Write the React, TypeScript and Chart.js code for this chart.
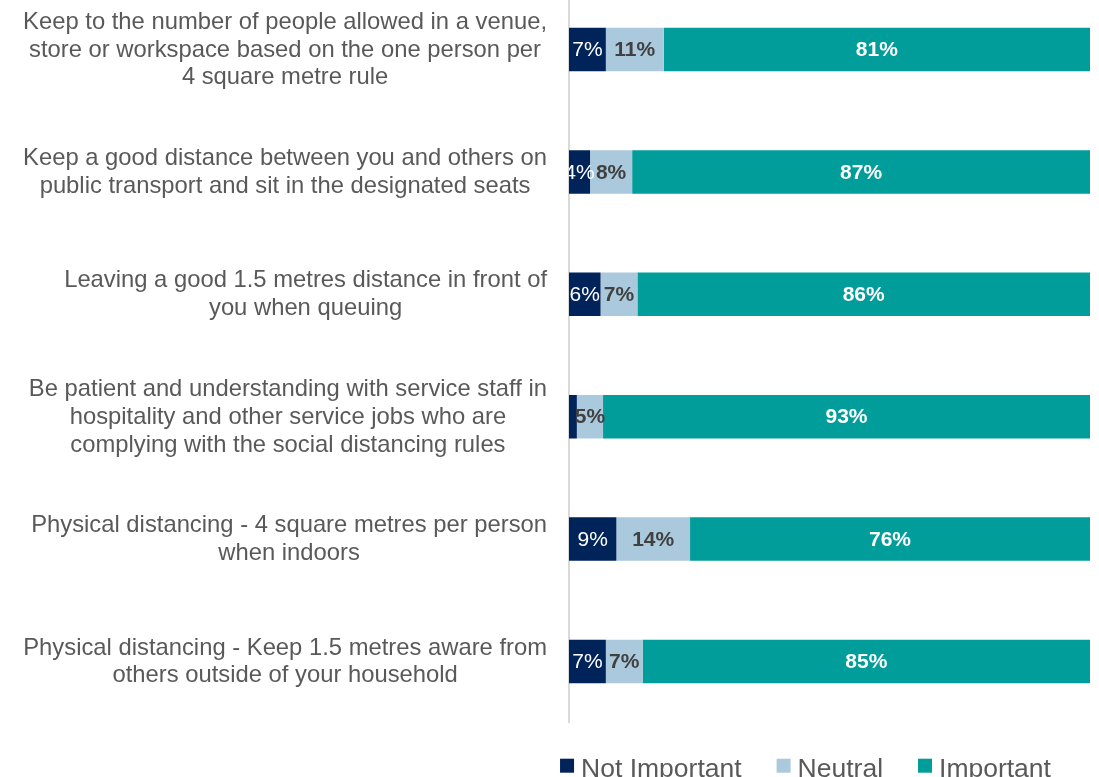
import React, { useEffect, useRef } from "react";
import { Chart, registerables } from "chart.js";

Chart.register(...registerables);

const categories: string[][] = [
  [
    "Keep to the number of people allowed in a venue,",
    "store or workspace based on the one person per",
    "4 square metre rule",
  ],
  [
    "Keep a good distance between you and others on",
    "public transport and sit in the designated seats",
  ],
  ["Leaving a good 1.5 metres distance in front of", "you when queuing"],
  [
    "Be patient and understanding with service staff in",
    "hospitality and other service jobs who are",
    "complying with the social distancing rules",
  ],
  ["Physical distancing - 4 square metres per person", "when indoors"],
  [
    "Physical distancing - Keep 1.5 metres aware from",
    "others outside of your household",
  ],
];

const notImportant = [7, 4, 6, 1.5, 9, 7];
const neutral = [11, 8, 7, 5, 14, 7];
const important = [81, 87, 86, 93, 76, 85];

const seriesNames = ["Not Important", "Neutral", "Important"];
const seriesColors = ["#00235A", "#ABC9DD", "#009D9A"];
const labelColors = ["#FFFFFF", "#404040", "#FFFFFF"];
const labelWeights = ["normal", "bold", "bold"];

const FONT = "'Liberation Sans', Arial, Helvetica, sans-serif";

const rawSeries = [notImportant, neutral, important];
const rowTotals = categories.map((_, i) =>
  rawSeries.reduce((s, arr) => s + arr[i], 0)
);

const axisLabelPlugin = {
  id: "axisLabels",
  afterDraw(chart: any) {
    const { ctx, chartArea } = chart;
    const yScale = chart.scales.y;
    ctx.save();
    ctx.font = `23.8px ${FONT}`;
    ctx.fillStyle = "#595959";
    ctx.textAlign = "center";
    ctx.textBaseline = "middle";
    const lineH = 27.75;
    const right = chartArea.left - 22;
    categories.forEach((lines, i) => {
      const yc = yScale.getPixelForTick(i);
      const w = Math.max(...lines.map((l) => ctx.measureText(l).width));
      const cx = right - w / 2;
      lines.forEach((l, j) => {
        ctx.fillText(l, cx, yc + 0.5 + (j - (lines.length - 1) / 2) * lineH);
      });
    });
    ctx.restore();
  },
};

const dataLabelPlugin = {
  id: "dataLabels",
  afterDatasetsDraw(chart: any) {
    const { ctx, chartArea } = chart;
    ctx.save();
    ctx.beginPath();
    ctx.rect(chartArea.left, chartArea.top, chartArea.right - chartArea.left, chartArea.bottom - chartArea.top);
    ctx.clip();
    ctx.textAlign = "center";
    ctx.textBaseline = "middle";
    chart.data.datasets.forEach((ds: any, di: number) => {
      const meta = chart.getDatasetMeta(di);
      meta.data.forEach((el: any, i: number) => {
        const raw = rawSeries[di][i];
        if (raw < 3) return;
        const cx = (el.x + el.base) / 2;
        ctx.font = `${labelWeights[di]} 21px ${FONT}`;
        ctx.fillStyle = labelColors[di];
        ctx.fillText(`${Math.round(raw)}%`, cx, el.y + 1);
      });
    });
    ctx.restore();
  },
};

const legendPlugin = {
  id: "customLegend",
  afterDraw(chart: any) {
    const { ctx, chartArea } = chart;
    ctx.save();
    ctx.font = `26.5px ${FONT}`;
    const box = 14;
    const gapBox = 7;
    const gapItem = 35;
    const widths = seriesNames.map((n) => ctx.measureText(n).width);
    const total =
      widths.reduce((s, w) => s + box + gapBox + w, 0) + gapItem * (seriesNames.length - 1);
    const center = (chartArea.left + chartArea.right) / 2 - 24;
    let x = center - total / 2;
    const baseY = chartArea.bottom + 54;
    const boxTop = chartArea.bottom + 36;
    ctx.textAlign = "left";
    ctx.textBaseline = "alphabetic";
    seriesNames.forEach((n, i) => {
      ctx.fillStyle = seriesColors[i];
      ctx.fillRect(x, boxTop, box, box);
      x += box + gapBox;
      ctx.fillStyle = "#595959";
      ctx.fillText(n, x, baseY);
      x += widths[i] + gapItem;
    });
    ctx.restore();
  },
};

export default function App() {
  const ref = useRef<HTMLCanvasElement | null>(null);

  useEffect(() => {
    if (!ref.current) return;
    const chart = new Chart(ref.current, {
      type: "bar",
      data: {
        labels: categories.map((c) => c.join(" ")),
        datasets: rawSeries.map((arr, di) => ({
          label: seriesNames[di],
          data: arr.map((v, i) => (v / rowTotals[i]) * 100),
          backgroundColor: seriesColors[di],
          borderWidth: 0,
          categoryPercentage: 0.355,
          barPercentage: 1,
        })),
      },
      options: {
        indexAxis: "y",
        responsive: false,
        animation: false,
        layout: { padding: { top: 8.3, bottom: 54.3, right: 9, left: 0 } },
        scales: {
          x: { stacked: true, min: 0, max: 100, display: false },
          y: {
            stacked: true,
            grid: { display: false },
            border: { display: true, color: "#D9D9D9", width: 2 },
            ticks: { display: false },
            afterFit: (s: any) => {
              s.width = 569;
            },
          },
        },
        plugins: {
          legend: { display: false },
          tooltip: { enabled: false },
        },
      },
      plugins: [dataLabelPlugin, axisLabelPlugin, legendPlugin],
    } as any);
    return () => chart.destroy();
  }, []);

  return (
    <div
      style={{
        position: "fixed",
        left: 0,
        top: 0,
        width: 1099,
        height: 777,
        overflow: "hidden",
        background: "#FFFFFF",
      }}
    >
      <canvas
        ref={ref}
        width={1099}
        height={797}
        style={{ position: "absolute", left: 0, top: -20, width: 1099, height: 797 }}
      />
    </div>
  );
}
